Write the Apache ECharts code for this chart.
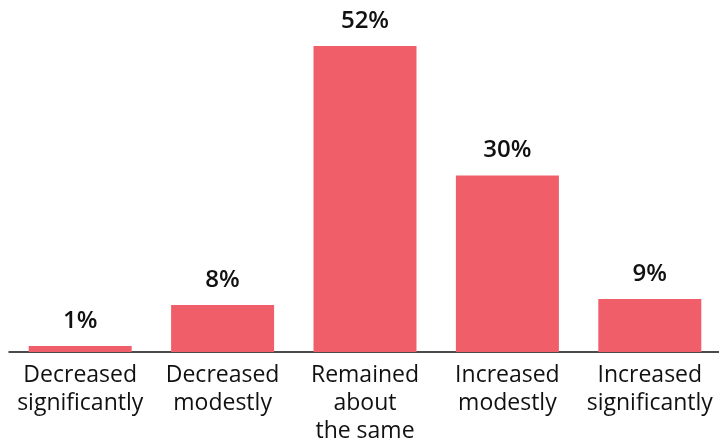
<!DOCTYPE html>
<html>
<head>
<meta charset="utf-8">
<script src="https://cdn.jsdelivr.net/npm/echarts@6/dist/echarts.min.js"></script>
<style>
  html, body { margin: 0; padding: 0; background: #fff; }
  #chart { width: 719px; height: 442px; }
</style>
</head>
<body>
<div id="chart"></div>
<script>
// Change categories and the share of respondents in each
const categories = [
  'Decreased\nsignificantly',
  'Decreased\nmodestly',
  'Remained\nabout\nthe same',
  'Increased\nmodestly',
  'Increased\nsignificantly'
];
const shares = [1, 8, 52, 30, 9];

const chart = echarts.init(document.getElementById('chart'));
chart.setOption({
  animation: false,
  grid: { left: 9, right: -2, top: 46, bottom: 90, outerBoundsMode: 'none', containLabel: false },
  xAxis: {
    type: 'category',
    data: categories,
    axisLine: { show: true, lineStyle: { color: '#111', width: 1.5 } },
    axisTick: { show: false },
    axisLabel: {
      interval: 0,
      color: '#111',
      fontFamily: '"Open Sans", sans-serif',
      fontSize: 23,
      lineHeight: 28,
      margin: 9
    }
  },
  yAxis: {
    type: 'value',
    min: 0,
    max: 52,
    show: false,
    splitLine: { show: false }
  },
  series: [{
    type: 'bar',
    data: shares,
    barWidth: 103,
    itemStyle: { color: '#F05E6A' },
    label: {
      show: true,
      position: 'top',
      distance: 13,
      formatter: '{c}%',
      color: '#111',
      fontFamily: '"Open Sans", sans-serif',
      fontWeight: 600,
      fontSize: 24
    }
  }]
});
</script>
</body>
</html>
